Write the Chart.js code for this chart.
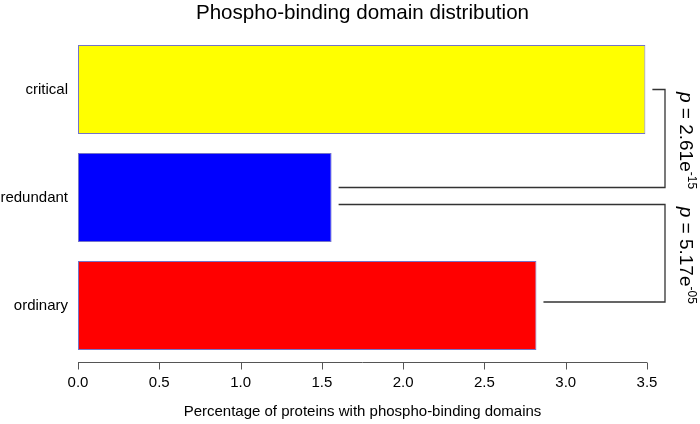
<!DOCTYPE html>
<html>
<head>
<meta charset="utf-8">
<script src="https://cdn.jsdelivr.net/npm/chart.js@4/dist/chart.umd.min.js"></script>
<style>
  html, body { margin: 0; padding: 0; background: #fff; }
  #wrap { width: 700px; height: 424px; }
</style>
</head>
<body>
<div id="wrap"><canvas id="grafico"></canvas></div>
<script>
// dados
var categorias = ["critical", "redundant", "ordinary"];
var valores = [3.49, 1.56, 2.82];
var cores = ["#ffff00", "#0000ff", "#ff0000"];
var ticks_x = [0, 0.5, 1, 1.5, 2, 2.5, 3, 3.5];
// pares comparados e p-valores
var comparacoes = [[0, 1], [1, 2]];
var p_base = ["2.61", "5.17"];
var p_expoente = ["-15", "-05"];

var titulo = "Phospho-binding domain distribution";
var FONTE = "'Liberation Sans', Arial, sans-serif";

// titulo, eixo x no estilo do R + colchetes com p-valores
var extras = {
  id: 'extras',
  afterDraw: function (chart) {
    var ctx = chart.ctx;
    var sx = chart.scales.x;
    var sy = chart.scales.y;
    var area = chart.chartArea;

    ctx.save();
    // titulo centrado na area do grafico
    ctx.fillStyle = "#000";
    ctx.font = "20.6px " + FONTE;
    ctx.textAlign = "center";
    ctx.textBaseline = "middle";
    ctx.fillText(titulo, (area.left + area.right) / 2, 13);

    // linha do eixo x e marcas
    var yEixo = Math.round(area.bottom + 2.5) + 0.5;
    ctx.strokeStyle = "#555";
    ctx.lineWidth = 1;
    ctx.beginPath();
    ctx.moveTo(sx.getPixelForValue(ticks_x[0]), yEixo);
    ctx.lineTo(sx.getPixelForValue(ticks_x[ticks_x.length - 1]), yEixo);
    for (var i = 0; i < ticks_x.length; i++) {
      var px = Math.round(sx.getPixelForValue(ticks_x[i])) + 0.5;
      ctx.moveTo(px, yEixo);
      ctx.lineTo(px, yEixo + 7);
    }
    ctx.stroke();

    // colchetes
    var xVert = 665;
    var desloc = [[0, -10], [7, -3.5]];
    ctx.strokeStyle = "#333";
    ctx.lineWidth = 1.3;
    for (var k = 0; k < comparacoes.length; k++) {
      var a = comparacoes[k][0], b = comparacoes[k][1];
      var ya = sy.getPixelForValue(a) + desloc[k][0];
      var yb = sy.getPixelForValue(b) + desloc[k][1];
      var xa = sx.getPixelForValue(valores[a]) + 7;
      var xb = sx.getPixelForValue(valores[b]) + 7;
      ctx.beginPath();
      ctx.moveTo(xa, ya);
      ctx.lineTo(xVert, ya);
      ctx.lineTo(xVert, yb);
      ctx.lineTo(xb, yb);
      ctx.stroke();

      // texto girado
      var yMeio = (ya + yb) / 2 + 2;
      ctx.save();
      ctx.translate(680, yMeio);
      ctx.rotate(Math.PI / 2);
      ctx.fillStyle = "#000";
      ctx.textAlign = "left";
      ctx.textBaseline = "alphabetic";
      var f1 = "italic 19px " + FONTE;
      var f2 = "19px " + FONTE;
      var f3 = "12px " + FONTE;
      ctx.font = f1; var w1 = ctx.measureText("p").width;
      ctx.font = f2; var t2 = " = " + p_base[k] + "e"; var w2 = ctx.measureText(t2).width;
      ctx.font = f3; var w3 = ctx.measureText(p_expoente[k]).width;
      var x0 = -(w1 + w2 + w3) / 2;
      ctx.font = f1; ctx.fillText("p", x0, 0);
      ctx.font = f2; ctx.fillText(t2, x0 + w1, 0);
      ctx.font = f3; ctx.fillText(p_expoente[k], x0 + w1 + w2, -8);
      ctx.restore();
    }
    ctx.restore();
  }
};

var ctx = document.getElementById("grafico");
var chartGraph = new Chart(ctx, {
  type: 'bar',
  data: {
    labels: categorias,
    datasets: [{
      data: valores,
      backgroundColor: cores,
      borderColor: "#7474c8",
      borderWidth: 1,
      borderSkipped: false,
      barPercentage: 0.824,
      categoryPercentage: 1
    }]
  },
  options: {
    indexAxis: 'y',
    responsive: true,
    maintainAspectRatio: false,
    animation: false,
    layout: { padding: { left: 0, right: 53, top: 35.5, bottom: 0 } },
    plugins: {
      legend: { display: false },
      tooltip: { enabled: false },
      title: { display: false }
    },
    scales: {
      x: {
        type: 'linear',
        min: 0,
        max: 3.5,
        afterFit: function (s) { s.height = 64.5; },
        afterBuildTicks: function (s) {
          s.ticks = ticks_x.map(function (v) { return { value: v }; });
        },
        grid: { display: false, drawTicks: false },
        border: { display: false },
        ticks: {
          color: "#000",
          padding: 14,
          maxRotation: 0,
          font: { family: FONTE, size: 15 },
          callback: function (v) { return Number(v).toFixed(1); }
        },
        title: {
          display: true,
          text: "Percentage of proteins with phospho-binding domains",
          color: "#000",
          font: { family: FONTE, size: 15 },
          padding: { top: 0, bottom: 3 }
        }
      },
      y: {
        afterFit: function (s) { s.width = 78; },
        grid: { display: false, drawTicks: false },
        border: { display: false },
        ticks: {
          color: "#000",
          padding: 10,
          font: { family: FONTE, size: 15 }
        }
      }
    }
  },
  plugins: [extras]
});
</script>
</body>
</html>
